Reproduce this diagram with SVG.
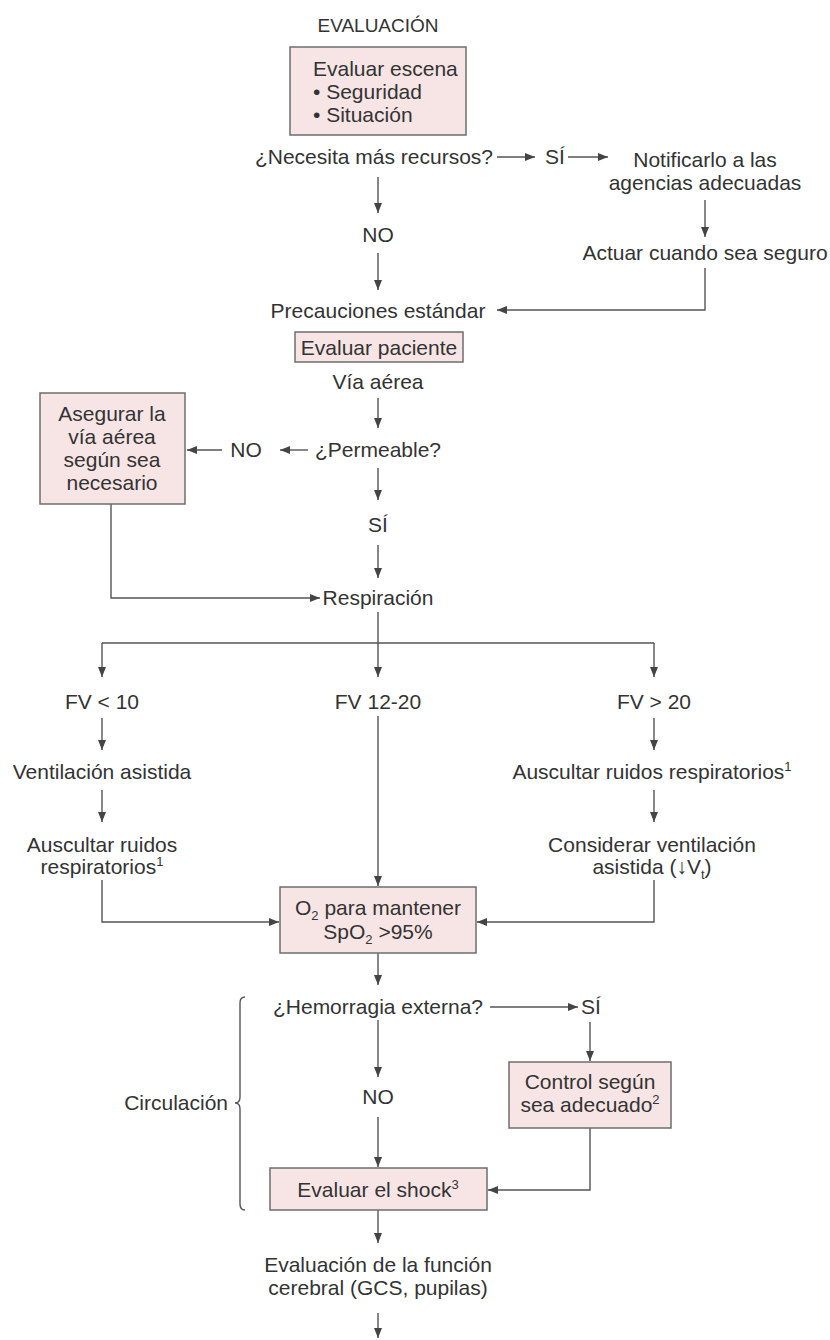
<svg xmlns="http://www.w3.org/2000/svg" width="830" height="1340" viewBox="0 0 830 1340">
<defs>
<marker id="ah" markerUnits="userSpaceOnUse" markerWidth="10" markerHeight="8" refX="10" refY="4" orient="auto">
<path d="M0,0 L10,4 L0,8 z" fill="#444"/>
</marker>
<style>
text{font-family:"Liberation Sans",Arial,Helvetica,sans-serif;font-size:21px;fill:#333;}
.c{text-anchor:middle;}
.e{text-anchor:end;}
.box{fill:#f7e5e5;stroke:#6e6e6e;stroke-width:1.5;}
.ln{fill:none;stroke:#555;stroke-width:1.4;}
.ar{fill:none;stroke:#555;stroke-width:1.4;marker-end:url(#ah);}
.sup{font-size:13px;}
</style>
</defs>
<rect width="830" height="1340" fill="#fff"/>

<g id="connectors">
<line class="ar" x1="378" y1="177" x2="378" y2="213"/>
<line class="ar" x1="378" y1="253" x2="378" y2="290"/>
<line class="ar" x1="497" y1="157" x2="535" y2="157"/>
<line class="ar" x1="568" y1="157" x2="608" y2="157"/>
<line class="ar" x1="705" y1="200" x2="705" y2="237"/>
<polyline class="ar" points="705,268 705,310 497,310"/>
<line class="ar" x1="378" y1="398" x2="378" y2="428"/>
<line class="ar" x1="308" y1="450" x2="280" y2="450"/>
<line class="ar" x1="222" y1="450" x2="187" y2="450"/>
<line class="ar" x1="378" y1="468" x2="378" y2="500"/>
<line class="ar" x1="378" y1="545" x2="378" y2="578"/>
<polyline class="ar" points="111,504 111,598 320,598"/>
<line class="ln" x1="378" y1="612" x2="378" y2="643"/>
<line class="ln" x1="102" y1="643" x2="654" y2="643"/>
<line class="ar" x1="102" y1="643" x2="102" y2="677"/>
<line class="ar" x1="378" y1="643" x2="378" y2="677"/>
<line class="ar" x1="654" y1="643" x2="654" y2="677"/>
<line class="ar" x1="102" y1="718" x2="102" y2="750"/>
<line class="ar" x1="102" y1="790" x2="102" y2="822"/>
<line class="ar" x1="654" y1="718" x2="654" y2="750"/>
<line class="ar" x1="654" y1="790" x2="654" y2="822"/>
<line class="ar" x1="378" y1="716" x2="378" y2="886"/>
<polyline class="ar" points="102,880 102,922 279,922"/>
<polyline class="ar" points="654,880 654,922 477,922"/>
<line class="ar" x1="378" y1="953" x2="378" y2="985"/>
<line class="ar" x1="490" y1="1007" x2="578" y2="1007"/>
<line class="ar" x1="590" y1="1022" x2="590" y2="1061"/>
<line class="ar" x1="378" y1="1020" x2="378" y2="1077"/>
<line class="ar" x1="378" y1="1117" x2="378" y2="1167"/>
<polyline class="ar" points="590,1128 590,1190 488,1190"/>
<line class="ar" x1="378" y1="1210" x2="378" y2="1243"/>
<line class="ar" x1="378" y1="1313" x2="378" y2="1338"/>
<path class="ln" d="M245,997 Q240,997 240,1003 L240,1097 Q240,1103 235,1103 Q240,1103 240,1109 L240,1204 Q240,1210 245,1210"/>
</g>

<g id="title"><text class="c" x="378" y="32" style="font-size:19px">EVALUACIÓN</text></g>

<g id="evaluar-escena">
<rect class="box" x="290" y="47" width="176" height="88"/>
<text x="313" y="76">Evaluar escena</text>
<text x="313" y="99">• Seguridad</text>
<text x="313" y="122">• Situación</text>
</g>

<g id="necesita"><text class="e" x="493" y="164">¿Necesita más recursos?</text></g>
<g id="si1"><text x="545" y="164">SÍ</text></g>
<g id="notificar">
<text class="c" x="705" y="167">Notificarlo a las</text>
<text class="c" x="705" y="190">agencias adecuadas</text>
</g>
<g id="actuar"><text class="c" x="705" y="260">Actuar cuando sea seguro</text></g>
<g id="no1"><text class="c" x="378" y="242">NO</text></g>
<g id="precauciones"><text class="c" x="378" y="318">Precauciones estándar</text></g>

<g id="evaluar-paciente">
<rect class="box" x="295" y="332" width="168" height="30"/>
<text class="c" x="379" y="355">Evaluar paciente</text>
</g>
<g id="via-aerea"><text class="c" x="378" y="389">Vía aérea</text></g>
<g id="permeable"><text class="c" x="378" y="457">¿Permeable?</text></g>
<g id="no2"><text class="c" x="246" y="457">NO</text></g>
<g id="asegurar">
<rect class="box" x="40" y="393" width="145" height="111"/>
<text class="c" x="112" y="421">Asegurar la</text>
<text class="c" x="112" y="444">vía aérea</text>
<text class="c" x="112" y="467">según sea</text>
<text class="c" x="112" y="490">necesario</text>
</g>
<g id="si2"><text class="c" x="378" y="532">SÍ</text></g>
<g id="respiracion"><text class="c" x="378" y="605">Respiración</text></g>

<g id="fv-low"><text class="c" x="102" y="709">FV &lt; 10</text></g>
<g id="fv-mid"><text class="c" x="378" y="709">FV 12-20</text></g>
<g id="fv-high"><text class="c" x="654" y="709">FV &gt; 20</text></g>
<g id="ventilacion"><text class="c" x="102" y="779">Ventilación asistida</text></g>
<g id="auscultar-left">
<text class="c" x="102" y="852">Auscultar ruidos</text>
<text class="c" x="102" y="874">respiratorios<tspan class="sup" dy="-8">1</tspan></text>
</g>
<g id="auscultar-right"><text class="c" x="652" y="779">Auscultar ruidos respiratorios<tspan class="sup" dy="-8">1</tspan></text></g>
<g id="considerar">
<text class="c" x="652" y="852">Considerar ventilación</text>
<text class="c" x="652" y="874">asistida (↓V<tspan class="sup" dy="5">t</tspan><tspan dy="-5">)</tspan></text>
</g>

<g id="oxigeno">
<rect class="box" x="280" y="887" width="196" height="66"/>
<text class="c" x="378" y="915">O<tspan class="sup" dy="5">2</tspan><tspan dy="-5"> para mantener</tspan></text>
<text class="c" x="378" y="939">SpO<tspan class="sup" dy="5">2</tspan><tspan dy="-5"> &gt;95%</tspan></text>
</g>

<g id="hemorragia"><text class="c" x="378" y="1014">¿Hemorragia externa?</text></g>
<g id="si3"><text class="c" x="591" y="1014">SÍ</text></g>
<g id="no3"><text class="c" x="378" y="1104">NO</text></g>
<g id="control">
<rect class="box" x="509" y="1062" width="162" height="66"/>
<text class="c" x="590" y="1089">Control según</text>
<text class="c" x="590" y="1112">sea adecuado<tspan class="sup" dy="-8">2</tspan></text>
</g>
<g id="circulacion"><text class="e" x="228" y="1110">Circulación</text></g>
<g id="shock">
<rect class="box" x="270" y="1168" width="217" height="42"/>
<text class="c" x="378" y="1197">Evaluar el shock<tspan class="sup" dy="-8">3</tspan></text>
</g>
<g id="cerebral">
<text class="c" x="378" y="1272">Evaluación de la función</text>
<text class="c" x="378" y="1295">cerebral (GCS, pupilas)</text>
</g>
</svg>
